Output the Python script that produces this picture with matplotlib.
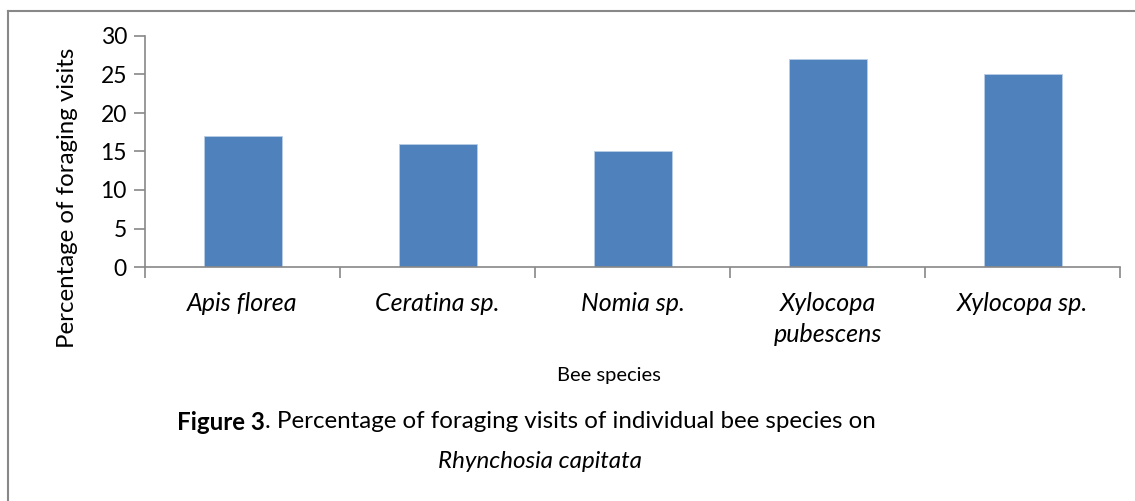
import matplotlib
matplotlib.use("Agg")
import matplotlib.pyplot as plt
from matplotlib.lines import Line2D

categories = ["Apis florea", "Ceratina sp.", "Nomia sp.", "Xylocopa\npubescens", "Xylocopa sp."]
values = [17, 16, 15, 27, 25]
yticks = [0, 5, 10, 15, 20, 25, 30]

plt.rcParams['font.family'] = ['Lato', 'DejaVu Sans']

W, H = 1135, 501
fig = plt.figure(figsize=(W/100, H/100), dpi=100)
ax = fig.add_axes([145/W, 1-267/H, (1120-145)/W, (267-36)/H])

x = list(range(len(categories)))
ax.bar(x, values, width=0.4, color="#4F81BD", edgecolor="#B9CDE5", linewidth=0.6, zorder=2)

ax.set_xlim(-0.5, len(categories)-0.5)
ax.set_ylim(0, 30)
ax.set_yticks(yticks)
ax.set_yticklabels([str(t) for t in yticks], fontsize=16.5)
ax.set_xticks(x)
ax.set_xticklabels(categories, fontsize=18, style='italic', linespacing=1.4)
ax.set_xticks([i-0.5 for i in range(len(categories)+1)], minor=True)
ax.tick_params(axis='x', which='major', length=0, pad=18)
ax.tick_params(axis='x', which='minor', length=8, color='#888888', width=1.2, direction='out')
ax.tick_params(axis='y', length=8, color='#888888', width=1.2, pad=5)
for s in ['top', 'right']:
    ax.spines[s].set_visible(False)
for s in ['left', 'bottom']:
    ax.spines[s].set_color('#888888')
    ax.spines[s].set_linewidth(1.2)

fig.text(68/W, 1-198/H, "Percentage of foraging visits", rotation=90, fontsize=17.3,
         ha='center', va='center')
fig.text(609/W, 1-376/H, "Bee species", fontsize=14.5, ha='center', va='center')
t1 = fig.text(177/W, 1-422/H, "Figure 3", fontsize=17.4, fontweight='bold', ha='left', va='center')
fig.canvas.draw()
bb = t1.get_window_extent()
fig.text(bb.x1/W, 1-422/H, ". Percentage of foraging visits of individual bee species on",
         fontsize=17.4, ha='left', va='center')
fig.text(540/W, 1-462/H, "Rhynchosia capitata", fontsize=17.4, style='italic', ha='center', va='center')

# frame
fig.add_artist(Line2D([8/W, 8/W], [0, 1-11/H], color='#888888', lw=1.5))
fig.add_artist(Line2D([8/W, 1], [1-11/H, 1-11/H], color='#888888', lw=1.5))

fig.savefig("out.png", dpi=100)
